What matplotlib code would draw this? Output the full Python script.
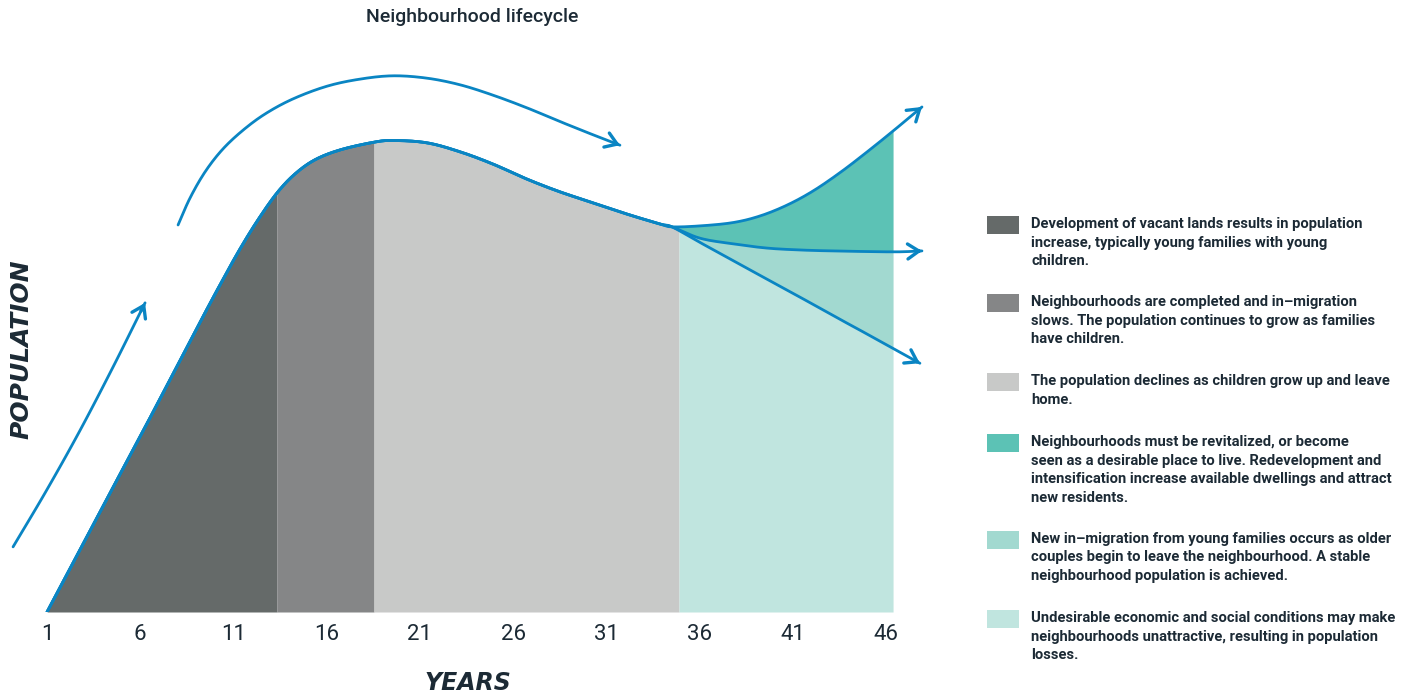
import numpy as np
import matplotlib
matplotlib.use("Agg")
import matplotlib.pyplot as plt
from matplotlib.patches import Rectangle

# ---------------- data (years, population index) ----------------
main_years = [1.0, 3.84, 6.52, 9.21, 10.39, 11.35, 12.32, 13.34, 14.30, 15.37, 16.72,
              18.49, 19.56, 21.38, 23.15, 24.92, 26.75, 28.52, 30.29, 32.11, 33.88, 34.52]
main_pop = [0.0, 21.2, 41.1, 61.4, 70.1, 76.9, 83.1, 88.8, 92.8, 95.8, 97.9,
            99.5, 99.9, 99.4, 97.5, 94.9, 91.7, 89.0, 86.7, 84.3, 82.2, 81.6]

# three futures after the junction (last value = arrow tip)
up_years = [34.52, 36.02, 37.79, 39.24, 40.69, 42.09, 43.54, 44.93, 46.38, 47.93]
up_pop = [81.6, 81.8, 82.5, 83.9, 86.2, 89.2, 93.1, 97.3, 101.9, 107.0]
mid_years = [34.52, 36.02, 37.79, 39.62, 41.39, 43.16, 46.38, 47.93]
mid_pop = [81.6, 79.2, 78.0, 77.1, 76.7, 76.5, 76.3, 76.5]
low_years = [34.52, 36.02, 37.79, 39.62, 41.39, 43.16, 44.61, 46.38, 47.82]
low_pop = [81.6, 78.3, 74.5, 70.5, 66.7, 62.8, 59.7, 55.8, 52.7]

# decorative trend arrows
rise_years = [-0.82, 0.95, 2.72, 4.49, 6.26]
rise_pop = [13.8, 25.6, 38.1, 51.5, 65.5]
arc_years = [8.03, 8.67, 9.47, 10.39, 11.46, 12.69, 14.19, 16.02, 17.79, 19.56, 21.38,
             23.15, 24.92, 26.75, 28.52, 30.29, 31.73]
arc_pop = [82.0, 87.7, 93.2, 97.9, 101.9, 105.5, 108.7, 111.4, 112.9, 113.6, 113.1,
           111.7, 109.5, 106.8, 103.9, 101.1, 98.9]

phase_bounds = [1.0, 13.34, 18.54, 34.90, 46.38]
tick_years = [1, 6, 11, 16, 21, 26, 31, 36, 41, 46]
tick_labels = ["1", "6", "11", "16", "21", "26", "31", "36", "41", "46"]

phase_colors = ["#656a69", "#858687", "#c8c9c8", "#5cc2b5", "#a2d9d0", "#c0e5df"]
legend_texts = [
    ["Development of vacant lands results in population",
     "increase, typically young families with young",
     "children."],
    ["Neighbourhoods are completed and in\u2013migration",
     "slows. The population continues to grow as families",
     "have children."],
    ["The population declines as children grow up and leave",
     "home."],
    ["Neighbourhoods must be revitalized, or become",
     "seen as a desirable place to live. Redevelopment and",
     "intensification increase available dwellings and attract",
     "new residents."],
    ["New in\u2013migration from young families occurs as older",
     "couples begin to leave the neighbourhood. A stable",
     "neighbourhood population is achieved."],
    ["Undesirable economic and social conditions may make",
     "neighbourhoods unattractive, resulting in population",
     "losses."],
]

LINE = "#0a85c3"
TEXT = "#1c2a35"


def smooth(xv, yv, n=24):
    """Catmull-Rom curve through the given points (drawing only)."""
    p = np.column_stack([xv, yv]).astype(float)
    p = np.vstack([2 * p[0] - p[1], p, 2 * p[-1] - p[-2]])
    t = np.linspace(0, 1, n, endpoint=False)[:, None]
    out = []
    for i in range(1, len(p) - 2):
        p0, p1, p2, p3 = p[i - 1], p[i], p[i + 1], p[i + 2]
        seg = 0.5 * (2 * p1 + (-p0 + p2) * t + (2 * p0 - 5 * p1 + 4 * p2 - p3) * t ** 2
                     + (-p0 + 3 * p1 - 3 * p2 + p3) * t ** 3)
        out.append(seg)
    out.append(p[-2][None, :])
    a = np.vstack(out)
    return a[:, 0], a[:, 1]


W, H = 1413, 698
fig = plt.figure(figsize=(W / 100, H / 100), dpi=100)
fx = lambda px: px / W
fy = lambda py: 1 - py / H

ax = fig.add_axes([0, fy(612), fx(960), 612 / H])
ax.set_xlim(-1.521, 49.97)
ax.set_ylim(0, 129.66)
for s in ax.spines.values():
    s.set_visible(False)
ax.set_yticks([])
ax.set_xticks(tick_years)
ax.set_xticklabels(tick_labels, fontsize=16, color=TEXT, family=["Roboto", "DejaVu Sans"],
                   fontweight="normal")
ax.tick_params(axis="x", length=0, pad=9)

# smooth curves: main continued by each branch
lx, ly = smooth(main_years + low_years[1:], main_pop + low_pop[1:])
mx, my = smooth(main_years + mid_years[1:], main_pop + mid_pop[1:])
ux, uy = smooth(main_years + up_years[1:], main_pop + up_pop[1:])


def under(x0, x1, color):
    xs = np.linspace(x0, x1, 500)
    ys = np.interp(xs, lx, ly)
    ax.fill_between(xs, 0, ys, color=color, lw=0, zorder=1)


under(phase_bounds[0], phase_bounds[1], phase_colors[0])
under(phase_bounds[1], phase_bounds[2], phase_colors[1])
under(phase_bounds[2], phase_bounds[3], phase_colors[2])
under(phase_bounds[3], phase_bounds[4], phase_colors[5])

xs = np.linspace(main_years[-1], phase_bounds[4], 500)
yu = np.interp(xs, ux, uy)
ym = np.interp(xs, mx, my)
yl = np.interp(xs, lx, ly)
ax.fill_between(xs, ym, yu, color=phase_colors[3], lw=0, zorder=1)
ax.fill_between(xs, yl, ym, color=phase_colors[4], lw=0, zorder=1)

lw = 2.0


def arrow_line(xv, yv):
    ax.plot(xv, yv, color=LINE, lw=lw, solid_capstyle="round",
            solid_joinstyle="round", zorder=3)
    ax.annotate("", xy=(xv[-1], yv[-1]), xytext=(xv[-4], yv[-4]),
                arrowprops=dict(arrowstyle="->,head_length=0.45,head_width=0.3",
                                color=LINE, lw=lw + 0.4, shrinkA=0, shrinkB=0,
                                mutation_scale=18), zorder=4)


arrow_line(ux, uy)
arrow_line(mx, my)
arrow_line(lx, ly)
arrow_line(*smooth(rise_years, rise_pop))
arrow_line(*smooth(arc_years, arc_pop))

# titles
fig.text(fx(472), fy(17), "Neighbourhood lifecycle", ha="center", va="center",
         fontsize=14, color=TEXT, family=["Roboto", "DejaVu Sans"], fontweight="medium")
fig.text(fx(468), fy(690), "YEARS", ha="center", va="baseline", fontsize=17,
         fontweight="bold", fontstyle="italic", color=TEXT, family="DejaVu Sans")
fig.text(fx(21), fy(349), "POPULATION", ha="center", va="center", rotation=90,
         fontsize=18, fontweight="bold", fontstyle="italic", color=TEXT, family="DejaVu Sans")

# legend
tops = [216, 294, 373, 434, 531, 610]
for top, col, lines in zip(tops, phase_colors, legend_texts):
    fig.add_artist(Rectangle((fx(987), fy(top + 18)), 32 / W, 18 / H,
                             transform=fig.transFigure, color=col, lw=0))
    for j, ln in enumerate(lines):
        fig.text(fx(1031), fy(top + 12 + j * 18.5), ln, ha="left", va="baseline",
                 fontsize=10.6, fontweight="bold", color=TEXT,
                 family=["Roboto", "DejaVu Sans"])

fig.savefig("out.png", dpi=100)
